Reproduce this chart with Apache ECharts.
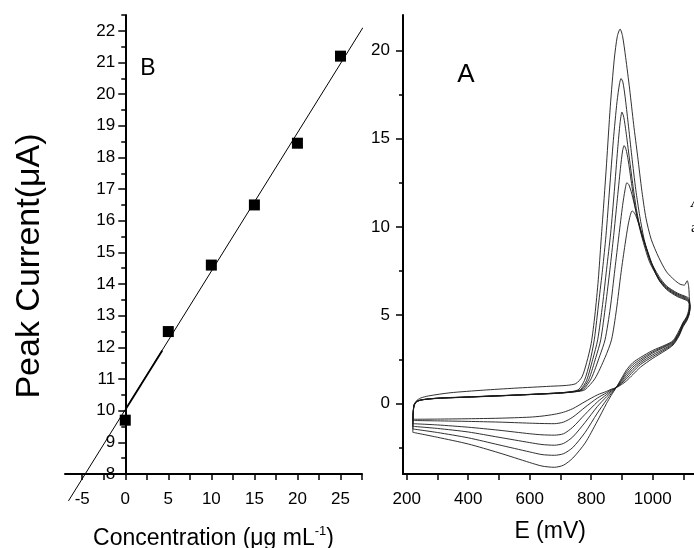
<!DOCTYPE html>
<html>
<head>
<meta charset="utf-8">
<script src="https://cdn.jsdelivr.net/npm/echarts@6/dist/echarts.min.js"></script>
<style>
html,body{margin:0;padding:0;background:#fff;}
#c{width:694px;height:548px;}
</style>
</head>
<body>
<div id="c"></div>
<script>
// ---------- Panel B: calibration ----------
var concB = [0, 5, 10, 15, 20, 25];
var peakB = [9.7, 12.5, 14.6, 16.5, 18.45, 21.2];
var fitLineB = [[-6.6, 7.15], [27.6, 22.1]];
var fitBoldB = [[0.1, 10.07], [4.3, 11.9]];
var bXTicks = [-5, -2.5, 0, 2.5, 5, 7.5, 10, 12.5, 15, 17.5, 20, 22.5, 25, 27.5];
var bXLabels = [-5, 0, 5, 10, 15, 20, 25];
var bYMajor = [8, 9, 10, 11, 12, 13, 14, 15, 16, 17, 18, 19, 20, 21, 22];
var bYMinor = [8.5, 9.5, 10.5, 11.5, 12.5, 13.5, 14.5, 15.5, 16.5, 17.5, 18.5, 19.5, 20.5, 21.5, 22.5];

// ---------- Panel A: cyclic voltammograms [E (mV), I (uA)] ----------
var cv1 = [[220,-1.64],[221,-0.6],[224,-0.1],[232,0.15],[245,0.3],[270,0.42],[341,0.6],[450,0.75],[550,0.86],[667,0.97],[720,1.02],[750,1.12],[770,1.5],[785,2.3],[800,3.4],[812,5.0],[823,7.0],[832,9.2],[842,11.6],[850,13.6],[862,16.8],[875,19.5],[885,20.8],[894,21.2],[902,20.8],[912,19.6],[925,17.8],[938,15.8],[951,14.0],[965,12.0],[978,10.5],[995,9.3],[1020,8.25],[1045,7.45],[1070,7.0],[1089,6.75],[1103,6.7],[1112,6.95],[1117,6.6],[1119,5.9],
  [1117,5.3],[1110,4.9],[1099,4.6],[1085,4.1],[1066,3.55],[1040,3.3],[1000,3.0],[960,2.6],[935,2.3],[915,1.9],[898,1.4],[881,0.89],[865,0.45],[850,0.0],[820,-1.0],[780,-2.25],[740,-3.1],[710,-3.5],[680,-3.62],[640,-3.55],[600,-3.35],[500,-2.8],[400,-2.3],[300,-1.92],[220,-1.64]];
var cv2 = [[220,-1.45],[221,-0.6],[224,-0.15],[232,0.08],[250,0.2],[300,0.29],[400,0.36],[500,0.43],[600,0.5],[700,0.6],[740,0.68],[760,0.8],[778,1.3],[795,2.3],[810,3.6],[825,5.8],[837,7.6],[848,9.5],[860,12.2],[872,14.9],[884,17.1],[892,18.1],[897,18.4],[903,18.2],[910,17.4],[920,15.9],[932,14.0],[945,12.1],[958,10.6],[972,9.3],[991,8.15],[1020,7.2],[1045,6.65],[1080,6.25],[1108,6.05],[1118,5.95],[1121,5.6],
  [1118,5.2],[1110,4.85],[1099,4.55],[1085,4.0],[1066,3.5],[1040,3.25],[1000,2.92],[960,2.5],[935,2.18],[915,1.78],[898,1.32],[881,0.89],[865,0.55],[850,0.2],[820,-0.55],[780,-1.65],[740,-2.5],[710,-2.85],[680,-2.94],[640,-2.9],[600,-2.75],[500,-2.35],[400,-1.95],[300,-1.65],[220,-1.45]];
var cv3 = [[220,-1.3],[221,-0.6],[224,-0.12],[232,0.1],[250,0.21],[300,0.3],[400,0.37],[500,0.44],[600,0.51],[700,0.6],[745,0.68],[765,0.78],[785,1.3],[805,2.5],[821,3.6],[837,5.6],[850,7.6],[863,9.6],[875,12.0],[886,14.4],[894,15.9],[900,16.5],[906,16.2],[913,15.4],[924,13.9],[936,12.3],[948,10.9],[962,9.7],[977,8.85],[995,7.95],[1020,7.1],[1045,6.6],[1080,6.2],[1108,6.0],[1118,5.85],[1121,5.5],
  [1118,5.15],[1110,4.8],[1099,4.5],[1085,3.95],[1066,3.45],[1040,3.2],[1000,2.85],[960,2.4],[935,2.05],[915,1.65],[898,1.25],[881,0.89],[865,0.63],[850,0.38],[820,-0.18],[780,-1.08],[740,-1.9],[710,-2.27],[680,-2.37],[640,-2.33],[600,-2.22],[500,-1.92],[400,-1.62],[300,-1.42],[220,-1.3]];
var cv4 = [[220,-1.15],[221,-0.6],[224,-0.1],[232,0.1],[250,0.2],[300,0.29],[400,0.36],[500,0.43],[600,0.5],[700,0.58],[750,0.68],[770,0.8],[792,1.35],[815,2.6],[831,3.6],[847,5.6],[861,7.6],[873,9.5],[884,11.4],[895,13.3],[902,14.3],[907,14.6],[913,14.4],[920,13.8],[930,12.6],[942,11.2],[955,10.1],[970,9.1],[990,8.0],[1020,7.05],[1045,6.55],[1080,6.15],[1108,5.95],[1118,5.8],[1121,5.45],
  [1118,5.1],[1110,4.75],[1099,4.45],[1085,3.9],[1066,3.4],[1040,3.12],[1000,2.75],[960,2.3],[935,1.92],[915,1.52],[898,1.18],[881,0.89],[865,0.7],[850,0.5],[820,0.08],[780,-0.62],[740,-1.35],[710,-1.72],[680,-1.8],[640,-1.78],[600,-1.72],[500,-1.52],[400,-1.35],[300,-1.22],[220,-1.15]];
var cv5 = [[220,-0.97],[221,-0.55],[224,-0.1],[232,0.1],[250,0.2],[300,0.28],[400,0.35],[500,0.42],[600,0.5],[700,0.58],[755,0.68],[775,0.8],[800,1.4],[828,2.7],[845,3.6],[862,5.4],[877,7.6],[890,9.5],[902,11.2],[910,12.1],[916,12.5],[922,12.4],[930,12.0],[940,11.3],[952,10.4],[965,9.6],[980,8.75],[997,7.85],[1020,7.0],[1045,6.5],[1080,6.1],[1108,5.9],[1118,5.75],[1121,5.4],
  [1118,5.05],[1110,4.7],[1099,4.4],[1085,3.85],[1066,3.35],[1040,3.05],[1000,2.65],[960,2.2],[935,1.78],[915,1.4],[898,1.12],[881,0.89],[865,0.76],[850,0.6],[820,0.3],[780,-0.22],[740,-0.78],[710,-1.06],[680,-1.15],[640,-1.14],[600,-1.12],[500,-1.06],[400,-1.02],[300,-0.99],[220,-0.97]];
var cv6 = [[220,-0.9],[221,-0.5],[224,-0.08],[232,0.12],[250,0.21],[300,0.29],[400,0.36],[500,0.43],[600,0.51],[700,0.6],[760,0.68],[780,0.78],[812,1.4],[845,2.6],[866,3.6],[882,5.3],[897,7.4],[910,9.0],[920,10.1],[927,10.65],[933,10.9],[940,10.8],[948,10.5],[958,10.0],[970,9.3],[984,8.6],[1000,7.8],[1020,7.0],[1045,6.45],[1080,6.05],[1108,5.85],[1118,5.7],[1121,5.35],
  [1118,5.0],[1110,4.65],[1099,4.35],[1085,3.8],[1066,3.3],[1040,2.98],[1000,2.55],[960,2.05],[935,1.62],[915,1.28],[898,1.06],[881,0.89],[865,0.8],[850,0.68],[820,0.48],[780,0.1],[740,-0.3],[710,-0.5],[680,-0.62],[640,-0.72],[600,-0.78],[500,-0.84],[400,-0.87],[300,-0.89],[220,-0.9]];
var cvCurves = [cv1, cv2, cv3, cv4, cv5, cv6];
var aXTicks = [200, 300, 400, 500, 600, 700, 800, 900, 1000, 1100];
var aXLabels = [200, 400, 600, 800, 1000];
var aYMajor = [0, 5, 10, 15, 20];
var aYMinor = [-2.5, 2.5, 7.5, 12.5, 17.5];

var FONT = '"Liberation Sans", Arial, Helvetica, sans-serif';
var SERIF = '"Liberation Serif", "Times New Roman", serif';
var axisLineStyle = {color: '#000', width: 2};
var tickStyle = {color: '#000', width: 1.5};
var plain = function (v) { return String(v); };
var labelStyle = {color: '#000', fontSize: 17, fontFamily: FONT, formatter: plain};

// B x-range and the pixel position of its x = 0 (the y axis sits there)
var bXMin = -7, bXMax = 27.5, bGridLeft = 65, bGridWidth = 297;
var bYOffset = -(0 - bXMin) / (bXMax - bXMin) * bGridWidth;

function majorAxis(extra) {
  var base = {
    type: 'value', splitLine: {show: false},
    axisLine: {show: true, onZero: false, lineStyle: axisLineStyle},
    axisTick: {show: true, inside: false, length: 7, lineStyle: tickStyle},
    axisLabel: Object.assign({}, labelStyle)
  };
  return Object.assign(base, extra);
}

var chart = echarts.init(document.getElementById('c'), null, {renderer: 'canvas'});

var series = [
  {type: 'line', xAxisIndex: 0, yAxisIndex: 0, data: fitLineB, clip: false, symbol: 'none',
   lineStyle: {color: '#000', width: 1}, z: 2},
  {type: 'line', xAxisIndex: 0, yAxisIndex: 0, data: fitBoldB, clip: false, symbol: 'none',
   lineStyle: {color: '#000', width: 1.8}, z: 2},
  {type: 'scatter', xAxisIndex: 0, yAxisIndex: 0,
   data: concB.map(function (c, i) { return [c, peakB[i]]; }),
   symbol: 'rect', symbolSize: 11, itemStyle: {color: '#000', opacity: 1}, z: 3}
];
cvCurves.forEach(function (d) {
  series.push({type: 'line', xAxisIndex: 1, yAxisIndex: 2, data: d, symbol: 'none',
    smooth: 0.25, clip: false, lineStyle: {color: '#1a1a1a', width: 0.9}});
});

chart.setOption({
  animation: false,
  backgroundColor: '#fff',
  textStyle: {fontFamily: FONT},
  grid: [
    {left: bGridLeft, top: 15, width: bGridWidth, height: 459, containLabel: false, outerBoundsMode: 'none'},
    {left: 403, top: 15, width: 294.3, height: 459, containLabel: false, outerBoundsMode: 'none'}
  ],
  xAxis: [
    majorAxis({gridIndex: 0, position: 'bottom', min: bXMin, max: bXMax,
      axisTick: {show: true, length: 6, lineStyle: tickStyle, customValues: bXTicks},
      axisLabel: Object.assign({}, labelStyle, {margin: 17, customValues: bXLabels}),
      name: '{a|Concentration (μg mL}{s|-1}{a|)}', nameLocation: 'middle', nameGap: 51,
      nameTextStyle: {rich: {
        a: {fontSize: 23, lineHeight: 27, color: '#000', fontFamily: FONT},
        s: {fontSize: 13, lineHeight: 13, verticalAlign: 'top', color: '#000', fontFamily: FONT}
      }}
    }),
    majorAxis({gridIndex: 1, position: 'bottom', min: 188, max: 1145,
      axisTick: {show: true, length: 6, lineStyle: tickStyle, customValues: aXTicks},
      axisLabel: Object.assign({}, labelStyle, {margin: 17, customValues: aXLabels}),
      name: 'E (mV)', nameLocation: 'middle', nameGap: 46,
      nameTextStyle: {fontSize: 23, color: '#000', fontFamily: FONT}
    })
  ],
  yAxis: [
    majorAxis({gridIndex: 0, position: 'left', offset: bYOffset, min: 8, max: 22.5,
      axisTick: {show: true, length: 7, lineStyle: tickStyle, customValues: bYMajor},
      axisLabel: Object.assign({}, labelStyle, {margin: 10, customValues: bYMajor})
    }),
    {type: 'value', gridIndex: 0, position: 'left', offset: bYOffset, min: 8, max: 22.5, splitLine: {show: false},
      axisLine: {show: false, onZero: false},
      axisTick: {show: true, length: 4, lineStyle: tickStyle, customValues: bYMinor},
      axisLabel: {show: false}
    },
    majorAxis({gridIndex: 1, position: 'left', min: -4, max: 22,
      axisTick: {show: true, length: 7, lineStyle: tickStyle, customValues: aYMajor},
      axisLabel: Object.assign({}, labelStyle, {margin: 13, customValues: aYMajor})
    }),
    {type: 'value', gridIndex: 1, position: 'left', min: -4, max: 22, splitLine: {show: false},
      axisLine: {show: false, onZero: false},
      axisTick: {show: true, length: 4, lineStyle: tickStyle, customValues: aYMinor},
      axisLabel: {show: false}
    }
  ],
  graphic: [
    {type: 'text', x: 30, y: 266, rotation: Math.PI / 2,
     style: {text: 'Peak Current(μA)', fontSize: 34, fontFamily: FONT, fill: '#000', align: 'center', verticalAlign: 'middle'}},
    {type: 'text', x: 148, y: 69,
     style: {text: 'B', fontSize: 23, fontFamily: FONT, fill: '#000', align: 'center', verticalAlign: 'middle'}},
    {type: 'text', x: 466, y: 75,
     style: {text: 'A', fontSize: 26, fontFamily: FONT, fill: '#000', align: 'center', verticalAlign: 'middle'}},
    {type: 'text', x: 691, y: 203,
     style: {text: 'A', fontSize: 17, fontStyle: 'italic', fontFamily: SERIF, fill: '#000', align: 'left', verticalAlign: 'middle'}},
    {type: 'text', x: 691, y: 228,
     style: {text: 'a', fontSize: 15, fontFamily: SERIF, fill: '#000', align: 'left', verticalAlign: 'middle'}}
  ],
  series: series
});
</script>
</body>
</html>
